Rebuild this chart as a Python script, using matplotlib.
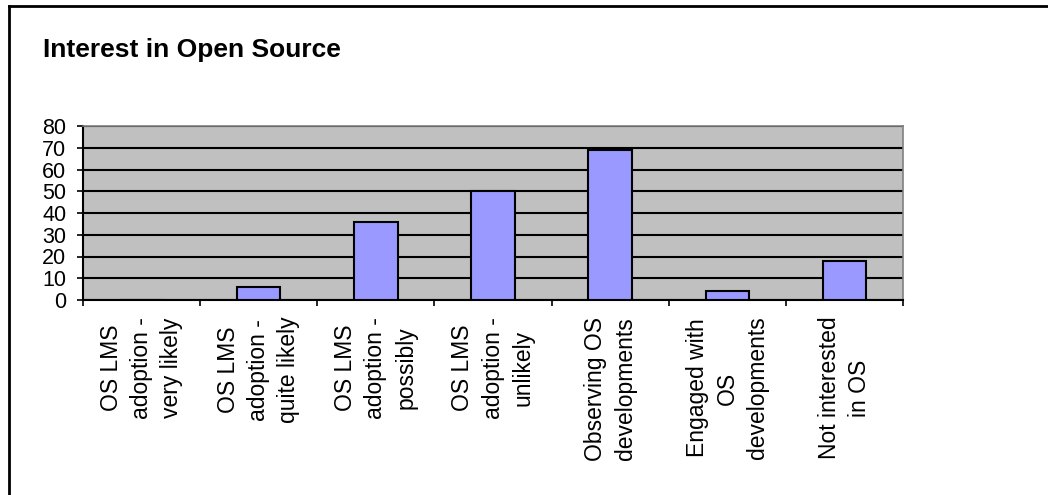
import matplotlib.pyplot as plt
from matplotlib.lines import Line2D
import numpy as np

# Survey responses: interest in open source
categories = [
    "OS LMS\nadoption -\nvery likely",
    "OS LMS\nadoption -\nquite likely",
    "OS LMS\nadoption -\npossibly",
    "OS LMS\nadoption -\nunlikely",
    "Observing OS\ndevelopments",
    "Engaged with\nOS\ndevelopments",
    "Not interested\nin OS",
]
counts = [0, 6, 36, 50, 69, 4, 18]
y_ticks = [0, 10, 20, 30, 40, 50, 60, 70, 80]

plt.rcParams['font.family'] = ['Liberation Sans', 'DejaVu Sans']

W, H = 1048, 495
fig = plt.figure(figsize=(W / 100, H / 100), dpi=100)
ax = fig.add_axes([83 / W, 1 - 300 / H, 820 / W, 174 / H])

ax.set_facecolor("#C0C0C0")
x = np.arange(len(categories)) + 0.5
ax.bar(x, counts, width=0.37, color="#9999FF", edgecolor="black",
       linewidth=1.5, zorder=3)

ax.set_xlim(0, len(categories))
ax.set_ylim(0, 80)
ax.set_yticks(y_ticks)
ax.set_yticklabels([str(v) for v in y_ticks], fontsize=15.5)
ax.yaxis.grid(True, color="black", linewidth=1.5, zorder=1)
ax.set_axisbelow(True)

ax.set_xticks(np.arange(len(categories) + 1))
ax.set_xticklabels([])
ax.set_xticks(x, minor=True)
ax.set_xticklabels(categories, minor=True, rotation=90, fontsize=16.5,
                   va="top", ha="center", multialignment="center",
                   linespacing=1.4)
ax.tick_params(axis="x", which="minor", length=0, pad=12)
ax.tick_params(axis="both", which="major", direction="out", length=4,
               width=1.2, color="black")
ax.tick_params(axis="y", pad=8)

for side in ["top", "right"]:
    ax.spines[side].set_color("#808080")
    ax.spines[side].set_linewidth(1.2)
for side in ["left", "bottom"]:
    ax.spines[side].set_color("black")
    ax.spines[side].set_linewidth(1.5)

fig.text(43 / W, 1 - 50 / H, "Interest in Open Source", fontsize=19,
         fontweight="bold", ha="left", va="center")

# outer chart frame
fig.add_artist(Line2D([8.5 / W, 1], [1 - 6 / H, 1 - 6 / H], color="black",
                      linewidth=2, transform=fig.transFigure))
fig.add_artist(Line2D([8.5 / W, 8.5 / W], [0, 1 - 6 / H], color="black",
                      linewidth=2, transform=fig.transFigure))

fig.savefig("out.png", dpi=100)
